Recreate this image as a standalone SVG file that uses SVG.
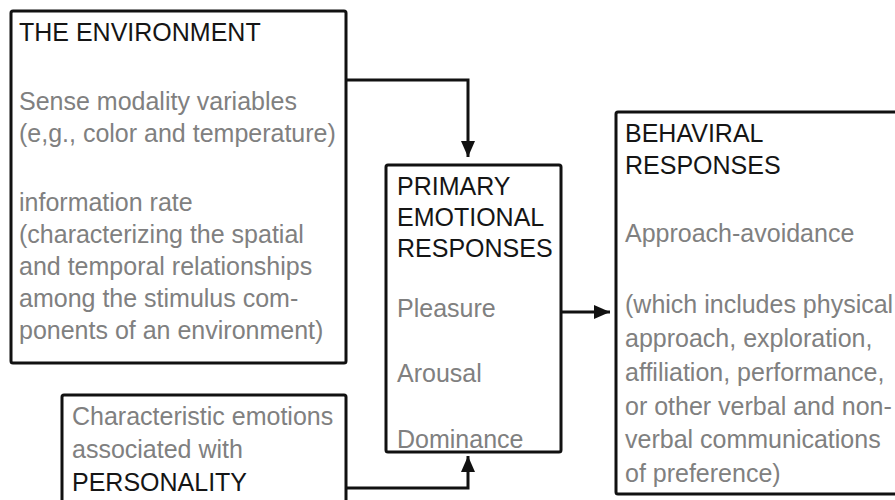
<svg xmlns="http://www.w3.org/2000/svg" width="895" height="500" viewBox="0 0 895 500">
<style>
.box{fill:#fff;stroke:#111;stroke-width:3}
.h{font-family:"Liberation Sans",Arial,sans-serif;font-size:25px;fill:#151515}
.t{font-family:"Liberation Sans",Arial,sans-serif;font-size:25px;fill:#808080}
.con{fill:none;stroke:#111;stroke-width:3}
</style>
<defs>
<marker id="arr" viewBox="0 0 16 14" refX="16" refY="7" markerWidth="16" markerHeight="14" markerUnits="userSpaceOnUse" orient="auto">
<path d="M0,0 L16,7 L0,14 Z" fill="#111"/>
</marker>
</defs>
<rect width="895" height="500" fill="#fff"/>
<g id="environment">
<rect class="box" x="11" y="11" width="335" height="352" rx="2"/>
<text class="h" x="19" y="41">THE ENVIRONMENT</text>
<text class="t" x="19" y="110">Sense modality variables</text>
<text class="t" x="19" y="142">(e,g., color and temperature)</text>
<text class="t" x="19" y="211">information rate</text>
<text class="t" x="19" y="243">(characterizing the spatial</text>
<text class="t" x="19" y="275">and temporal relationships</text>
<text class="t" x="19" y="307">among the stimulus com-</text>
<text class="t" x="19" y="339">ponents of an environment)</text>
</g>
<g id="personality">
<rect class="box" x="62" y="395" width="284" height="120" rx="2"/>
<text class="t" x="72" y="425">Characteristic emotions</text>
<text class="t" x="72" y="458">associated with</text>
<text class="h" x="72" y="491">PERSONALITY</text>
</g>
<g id="primary">
<rect class="box" x="386" y="165" width="175" height="287" rx="2"/>
<text class="h" x="397" y="195">PRIMARY</text>
<text class="h" x="397" y="226">EMOTIONAL</text>
<text class="h" x="397" y="257">RESPONSES</text>
<text class="t" x="397" y="317">Pleasure</text>
<text class="t" x="397" y="382">Arousal</text>
<text class="t" x="397" y="448">Dominance</text>
</g>
<g id="behavioral">
<rect class="box" x="616" y="112" width="300" height="382" rx="2"/>
<text class="h" x="625" y="142">BEHAVIRAL</text>
<text class="h" x="625" y="174">RESPONSES</text>
<text class="t" x="625" y="242">Approach-avoidance</text>
<text class="t" x="625" y="313">(which includes physical</text>
<text class="t" x="625" y="347">approach, exploration,</text>
<text class="t" x="625" y="381">affiliation, performance,</text>
<text class="t" x="625" y="415">or other verbal and non-</text>
<text class="t" x="625" y="448">verbal communications</text>
<text class="t" x="625" y="482">of preference)</text>
</g>
<g id="connectors">
<polyline class="con" points="346,80 468,80 468,157" marker-end="url(#arr)"/>
<polyline class="con" points="346,488 468,488 468,456" marker-end="url(#arr)"/>
<line class="con" x1="561" y1="312" x2="610" y2="312" marker-end="url(#arr)"/>
</g>
</svg>
